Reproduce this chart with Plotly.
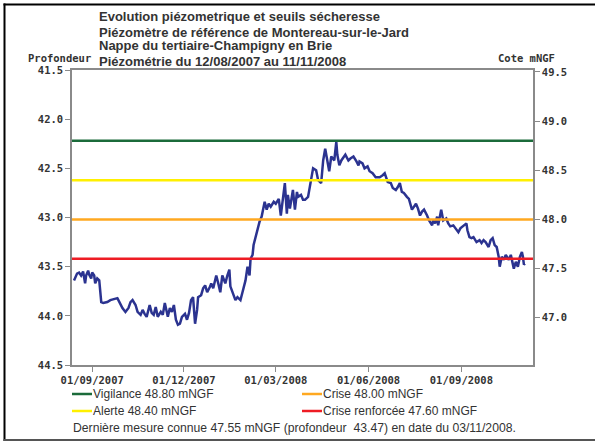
import pandas as pd
import plotly.graph_objects as go

# ---------------- data ----------------
date_debut = "2007-08-12"
date_fin = "2008-11-11"
cote_repere = 91.02  # cote mNGF = cote_repere - profondeur

# days since 12/08/2007
jours = [2, 5, 7, 9, 11, 13, 14, 16, 17, 19, 20, 22, 23, 25, 27, 29, 31, 35, 38, 41,
         45, 47, 50, 53, 56, 58, 60, 63, 65, 68, 70, 72, 74, 77, 79, 81, 83, 85, 88, 90,
         92, 95, 97, 99, 101, 103, 105, 107, 109, 112, 114, 116, 118, 120, 122, 124, 125, 128, 130, 132,
         134, 137, 138, 140, 143, 145, 147, 149, 152, 154, 156, 157, 159, 162, 164, 167, 169, 171, 172, 174,
         176, 177, 179, 180, 182, 185, 186, 188, 190, 191, 193, 195, 197, 200, 202, 205, 207, 209, 211, 213,
         214, 216, 219, 221, 223, 224, 227, 229, 231, 234, 238, 239, 242, 244, 247, 249, 251, 253, 255, 257,
         260, 262, 263, 265, 267, 271, 274, 276, 279, 282, 284, 285, 288, 290, 293, 295, 298, 301, 305, 308,
         310, 313, 315, 316, 318, 321, 323, 325, 327, 329, 332, 334, 337, 339, 341, 343, 345, 347, 349, 352,
         354, 357, 358, 360, 362, 363, 365, 366, 368, 371, 373, 375, 378, 381, 383, 385, 388, 391, 392, 394,
         396, 398, 401, 404, 406, 408, 410, 413, 415, 417, 419, 421, 423, 424, 426, 428, 430, 433, 435, 437,
         438, 440, 442, 444, 446, 447, 448, 449]

profondeur = [43.64, 43.57, 43.56, 43.59, 43.55, 43.67, 43.59, 43.54, 43.58, 43.62, 43.56, 43.59, 43.67, 43.62, 43.64, 43.86, 43.87, 43.86, 43.84, 43.83,
              43.82, 43.86, 43.92, 43.96, 43.92, 43.86, 43.84, 43.89, 43.96, 43.99, 43.94, 43.98, 44.01, 43.89, 43.97, 43.99, 43.91, 44.01, 43.96, 43.99,
              43.87, 44.01, 43.92, 43.96, 43.89, 44.04, 44.09, 44.08, 44.01, 43.98, 44.04, 43.97, 43.84, 43.81, 44.08, 43.94, 43.81, 43.79, 43.72, 43.69,
              43.76, 43.70, 43.67, 43.72, 43.59, 43.67, 43.76, 43.59, 43.67, 43.59, 43.53, 43.70, 43.76, 43.84, 43.81, 43.84, 43.76, 43.67, 43.64, 43.50,
              43.59, 43.42, 43.38, 43.28, 43.20, 43.11, 43.04, 42.99, 42.87, 42.84, 42.92, 42.86, 42.89, 42.84, 42.86, 42.81, 42.98, 42.79, 42.65, 42.96,
              42.77, 42.91, 42.72, 42.92, 42.74, 42.79, 42.77, 42.82, 42.82, 42.79, 42.55, 42.50, 42.52, 42.62, 42.65, 42.42, 42.30, 42.42, 42.53, 42.38,
              42.42, 42.23, 42.36, 42.47, 42.42, 42.36, 42.42, 42.40, 42.38, 42.43, 42.47, 42.43, 42.45, 42.50, 42.48, 42.53, 42.55, 42.59, 42.59, 42.57,
              42.55, 42.64, 42.65, 42.65, 42.70, 42.72, 42.69, 42.65, 42.74, 42.75, 42.79, 42.81, 42.92, 42.89, 42.86, 42.91, 42.98, 42.94, 42.92, 42.98,
              43.03, 43.08, 43.03, 43.06, 42.99, 43.08, 42.96, 42.92, 43.03, 43.01, 43.06, 43.09, 43.08, 43.13, 43.15, 43.11, 43.08, 43.06, 43.13, 43.20,
              43.21, 43.20, 43.25, 43.23, 43.26, 43.23, 43.25, 43.30, 43.23, 43.21, 43.28, 43.30, 43.40, 43.50, 43.40, 43.43, 43.38, 43.43, 43.38, 43.47,
              43.52, 43.45, 43.50, 43.40, 43.35, 43.40, 43.48, 43.47]

seuil_noms = ["Vigilance", "Alerte", "Crise", "Crise renforcée"]
seuil_valeurs = [48.80, 48.40, 48.00, 47.60]
seuil_couleurs = ["#1b6b3a", "#fff000", "#ffa820", "#ee1c24"]

x_ticks = ["2007-09-01", "2007-12-01", "2008-03-01", "2008-06-01", "2008-09-01"]
prof_ticks = [41.5, 42.0, 42.5, 43.0, 43.5, 44.0, 44.5]
cote_ticks = [47.0, 47.5, 48.0, 48.5, 49.0, 49.5]

titre = ["Evolution piézometrique et seuils sécheresse",
         "Piézomètre de référence de Montereau-sur-le-Jard",
         "Nappe du tertiaire-Champigny en Brie",
         "Piézométrie du 12/08/2007 au 11/11/2008"]

derniere_cote = 47.55
derniere_prof = 43.47
derniere_date = "03/11/2008"

# ---------------- figure ----------------
dates = pd.to_datetime(date_debut) + pd.to_timedelta(jours, unit="D")

W, H = 595, 441
L, R, T, B = 72, 62, 70, 76
pw, ph = W - L - R, H - T - B


def px(xp):
    return (xp - L) / pw


def py(yp):
    return (H - B - yp) / ph


fig = go.Figure()
for nom, val, col in zip(seuil_noms, seuil_valeurs, seuil_couleurs):
    fig.add_trace(go.Scatter(x=[date_debut, date_fin], y=[val, val], yaxis="y2",
                             mode="lines", line=dict(color=col, width=2.5),
                             name=nom, hoverinfo="skip"))
fig.add_trace(go.Scatter(x=dates, y=profondeur, mode="lines",
                         line=dict(color="#2b3390", width=2.5), name="Profondeur"))

tick_font = dict(family="DejaVu Sans Mono", size=10.5, color="#333333", weight="bold")
grey = "#8a8a8a"

fig.update_layout(
    width=W, height=H,
    margin=dict(l=L, r=R, t=T, b=B, pad=0),
    paper_bgcolor="white", plot_bgcolor="white",
    showlegend=False,
    xaxis=dict(range=[date_debut, date_fin], tickvals=x_ticks, tickformat="%d/%m/%Y",
               ticks="outside", ticklen=5, tickcolor=grey, showgrid=False, zeroline=False,
               showline=True, linecolor=grey, linewidth=1.5, mirror=True,
               tickfont=tick_font),
    yaxis=dict(range=[prof_ticks[-1], prof_ticks[0]], tickvals=prof_ticks, tickformat=".1f",
               ticks="outside", ticklen=5, tickcolor=grey, showgrid=False, zeroline=False,
               showline=True, linecolor=grey, linewidth=1.5, tickfont=tick_font,
               ticklabelstandoff=0),
    yaxis2=dict(overlaying="y", side="right",
                range=[cote_repere - prof_ticks[-1], cote_repere - prof_ticks[0]],
                tickvals=cote_ticks, tickformat=".1f",
                ticks="outside", ticklen=5, tickcolor=grey, showgrid=False, zeroline=False,
                showline=True, linecolor=grey, linewidth=1.5, tickfont=tick_font),
)

# title lines
title_y = [17, 32, 46, 61]
for txt, yy in zip(titre, title_y):
    fig.add_annotation(x=px(97), y=py(yy), xref="paper", yref="paper", text=txt,
                       showarrow=False, xanchor="left", yanchor="middle",
                       font=dict(family="Liberation Sans", size=13, color="#333333", weight="bold"))

fig.add_annotation(x=px(93), y=py(58), xref="paper", yref="paper", text="Profondeur",
                   showarrow=False, xanchor="right", yanchor="middle", font=tick_font)
fig.add_annotation(x=px(496), y=py(58), xref="paper", yref="paper", text="Cote mNGF",
                   showarrow=False, xanchor="left", yanchor="middle", font=tick_font)

# legend (two columns)
leg_font = dict(family="Liberation Sans", size=12, color="#333333")
col_x = [72, 302]
row_y = [394, 411]
for i, (nom, val, col) in enumerate(zip(seuil_noms, seuil_valeurs, seuil_couleurs)):
    cx = col_x[i // 2]
    ry = row_y[i % 2]
    fig.add_shape(type="line", xref="paper", yref="paper", x0=px(cx), x1=px(cx + 20),
                  y0=py(ry), y1=py(ry), line=dict(color=col, width=2.5))
    fig.add_annotation(x=px(cx + 20), y=py(ry), xref="paper", yref="paper",
                       text=f"{nom} {val:.2f} mNGF", showarrow=False,
                       xanchor="left", yanchor="middle", font=leg_font, xshift=-1)

fig.add_annotation(x=px(71), y=py(428), xref="paper", yref="paper",
                   text=f"Dernière mesure connue {derniere_cote:.2f} mNGF (profondeur&nbsp; {derniere_prof:.2f}) en date du {derniere_date}.",
                   showarrow=False, xanchor="left", yanchor="middle",
                   font=dict(family="Liberation Sans", size=12.2, color="#333333"))

# outer frame
fig.add_shape(type="line", xref="paper", yref="paper", x0=px(3.5), x1=px(600),
              y0=py(4.5), y1=py(4.5), line=dict(color="black", width=2))
fig.add_shape(type="line", xref="paper", yref="paper", x0=px(4.5), x1=px(4.5),
              y0=py(3.5), y1=py(445), line=dict(color="black", width=2))
fig.add_shape(type="line", xref="paper", yref="paper", x0=px(3.5), x1=px(600),
              y0=py(440), y1=py(440), line=dict(color="#555555", width=2))

fig.write_html("out.html", config={"displayModeBar": False},
               post_script="document.body.style.margin='0px';document.body.style.overflow='hidden';")
